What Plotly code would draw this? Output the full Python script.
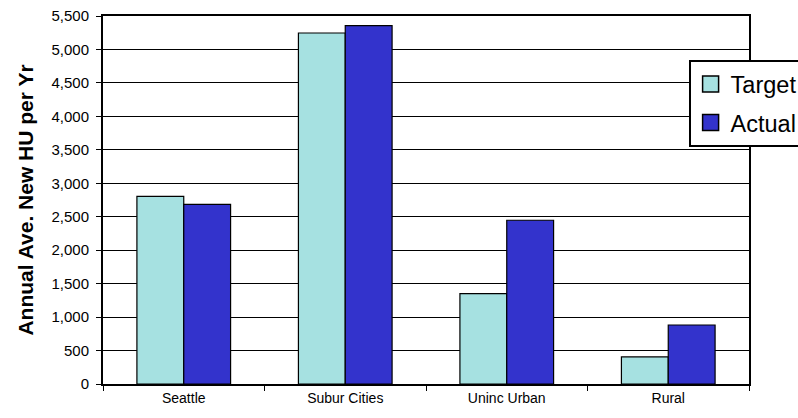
import plotly.graph_objects as go

categories = ["Seattle", "Subur Cities", "Uninc Urban", "Rural"]
series_names = ["Target", "Actual"]
target = [2805, 5246, 1351, 404]
actual = [2686, 5356, 2447, 882]
colors = ["#A6E1E1", "#3333CC"]

fig = go.Figure()
for name, vals, col in zip(series_names, [target, actual], colors):
    fig.add_trace(go.Bar(name=name, x=categories, y=vals, showlegend=False,
                         marker=dict(color=col, line=dict(color="black", width=1.2))))
# legend proxies (larger swatches)
for name, col in zip(series_names, colors):
    fig.add_trace(go.Scatter(name=name, x=[None], y=[None], mode="markers", legendgroup=name,
                             marker=dict(symbol="square", size=16, color=col,
                                         line=dict(color="black", width=1.5))))

fig.update_layout(
    width=798, height=418,
    margin=dict(l=103, r=49, t=16, b=34, autoexpand=False),
    paper_bgcolor="white", plot_bgcolor="white",
    barmode="group", bargap=0.42, bargroupgap=0,
    font=dict(family="Arial, Liberation Sans, sans-serif", color="black"),
    showlegend=True,
    legend=dict(x=0.9065, y=0.88, xanchor="left", yanchor="top",
                bgcolor="white", bordercolor="black", borderwidth=2,
                traceorder="grouped", tracegroupgap=5,
                font=dict(size=23.5, color="black")),
)
fig.update_yaxes(range=[0, 5500], dtick=500, tickformat=",",
                 showgrid=True, gridcolor="black", gridwidth=1,
                 showline=True, linecolor="black", linewidth=2, mirror=True,
                 ticks="outside", ticklen=5, tickcolor="black",
                 tickfont=dict(size=15), ticklabelstandoff=4,
                 title=dict(text="<b>Annual Ave. New HU per Yr</b>", font=dict(size=21), standoff=12),
                 zeroline=False)
fig.update_xaxes(showline=True, linecolor="black", linewidth=2, mirror=True,
                 ticks="outside", ticklen=5, tickcolor="black", tickson="boundaries",
                 tickfont=dict(size=14))

fig.write_html("out.html")
